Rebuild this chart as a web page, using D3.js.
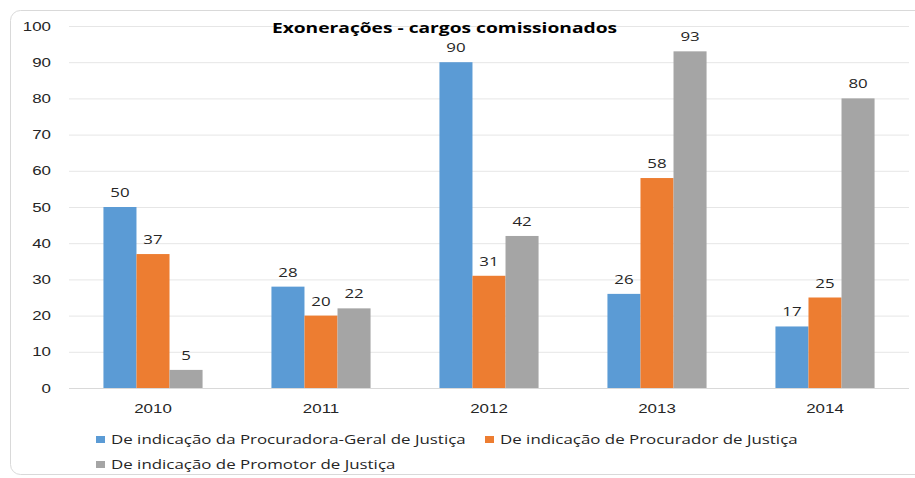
<!DOCTYPE html>
<html><head><meta charset="utf-8">
<script src="https://cdn.jsdelivr.net/npm/d3@7"></script>
<style>body{margin:0;background:#fff;}svg{display:block;font-family:"Open Sans",sans-serif;}</style>
</head><body><svg id="c" width="915" height="478"></svg>
<script>
const years = ["2010","2011","2012","2013","2014"];
const seriesNames = ["De indicação da Procuradora-Geral de Justiça","De indicação de Procurador de Justiça","De indicação de Promotor de Justiça"];
const procGeral = [50,28,90,26,17];
const procurador = [37,20,31,58,25];
const promotor = [5,22,42,93,80];
const yTicks = [0,10,20,30,40,50,60,70,80,90,100];
const colors = ["#5b9bd5","#ed7d31","#a5a5a5"];
const series = [procGeral, procurador, promotor];
const K = 1.3; // horizontal stretch of text

const svg = d3.select("#c");
svg.append("rect").attr("x",10.5).attr("y",10.5).attr("width",920).attr("height",464)
  .attr("rx",10).attr("fill","#fff").attr("stroke","#d9d9d9");

const m = {l:69, r:909, t:26, b:388};
const x = d3.scaleBand().domain(years).range([m.l,m.r]).paddingInner(0.41).paddingOuter(0.205);
const xs = d3.scaleBand().domain([0,1,2]).range([0,x.bandwidth()]);
const y = d3.scaleLinear().domain([0,100]).range([m.b,m.t]);

function stretchText(sel, tx, ty, k){
  sel.attr("x",0).attr("y",0).attr("transform",`translate(${tx},${ty}) scale(${k},1)`);
}

const yAxis = d3.axisLeft(y).tickValues(yTicks).tickSize(-(m.r-m.l));
const gy = svg.append("g").attr("transform",`translate(${m.l},0)`).call(yAxis);
gy.select(".domain").remove();
gy.selectAll(".tick line").attr("stroke","#e6e6e6");
gy.selectAll(".tick text").attr("font-size",13).attr("fill","#262626")
  .attr("dy","0.32em").each(function(){ stretchText(d3.select(this), -18, 0, K); });

svg.append("line").attr("x1",m.l).attr("x2",m.r).attr("y1",y(0)+0.5).attr("y2",y(0)+0.5).attr("stroke","#d9d9d9");

const xAxis = d3.axisBottom(x).tickSize(0);
const gx = svg.append("g").attr("transform",`translate(0,${m.b})`).call(xAxis);
gx.select(".domain").remove();
gx.selectAll(".tick text").attr("font-size",13).attr("fill","#262626")
  .attr("dy",0).each(function(){ stretchText(d3.select(this), 0, 25, K); });

series.forEach((vals,si)=>{
  const g = svg.append("g");
  g.selectAll("rect").data(vals).join("rect")
    .attr("x",(d,i)=>x(years[i])+xs(si))
    .attr("width",xs.bandwidth())
    .attr("y",d=>y(d)).attr("height",d=>y(0)-y(d))
    .attr("fill",colors[si]);
  g.selectAll("text").data(vals).join("text")
    .attr("text-anchor","middle").attr("font-size",13).attr("fill","#262626")
    .text(d=>d)
    .each(function(d,i){ stretchText(d3.select(this), x(years[i])+xs(si)+xs.bandwidth()/2, y(d)-10, K); });
});

stretchText(svg.append("text").attr("text-anchor","middle")
  .attr("font-size",15).attr("font-weight","bold").attr("fill","#000")
  .text("Exonerações  - cargos comissionados"), 444.5, 33, 1.28);

const legPos = [[96,444],[485,444],[96,469]];
seriesNames.forEach((n,i)=>{
  const [lx,ly]=legPos[i];
  svg.append("rect").attr("x",lx).attr("y",ly-8).attr("width",9).attr("height",7).attr("fill",colors[i]);
  stretchText(svg.append("text").attr("font-size",13).attr("fill","#262626").text(n), lx+15, ly, K);
});
</script></body></html>
